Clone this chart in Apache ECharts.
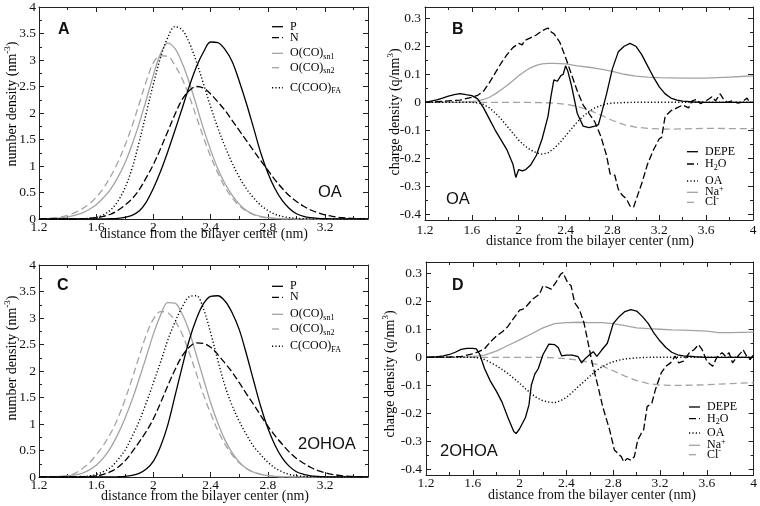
<!DOCTYPE html>
<html><head><meta charset="utf-8">
<script src="https://cdn.jsdelivr.net/npm/echarts@6/dist/echarts.min.js"></script>
<style>html,body{margin:0;padding:0;background:#fff}#c{width:760px;height:506px}</style>
</head><body><div id="c"></div><script>
// ---------- DATA ----------
const xAC = [1.2,1.25,1.3,1.35,1.4,1.45,1.5,1.55,1.6,1.65,1.7,1.75,1.8,1.85,1.9,1.95,2.0,2.05,2.1,2.15,2.2,2.25,2.3,2.35,2.4,2.45,2.5,2.55,2.6,2.65,2.7,2.75,2.8,2.85,2.9,2.95,3.0,3.05,3.1,3.15,3.2,3.25,3.3,3.35,3.4,3.45,3.5];
// Panel A (OA) number densities
const pA   = [0,0,0,0,0,0,0,0,0,0.003,0.006,0.012,0.03,0.07,0.15,0.32,0.58,0.9,1.27,1.67,2.08,2.5,2.87,3.15,3.34,3.33,3.2,2.97,2.6,2.18,1.72,1.25,0.87,0.57,0.35,0.2,0.1,0.05,0.025,0.012,0.005,0.002,0,0,0,0,0];
const nA   = [0,0,0,0,0,0.003,0.006,0.012,0.025,0.05,0.09,0.16,0.26,0.38,0.55,0.78,1.03,1.33,1.65,1.97,2.25,2.42,2.5,2.47,2.36,2.21,2.05,1.86,1.67,1.48,1.29,1.1,0.92,0.74,0.58,0.44,0.33,0.24,0.17,0.12,0.08,0.05,0.03,0.018,0.01,0.005,0.002];
const sn1A = [0.002,0.005,0.01,0.02,0.04,0.07,0.11,0.18,0.27,0.4,0.56,0.78,1.05,1.4,1.8,2.25,2.72,3.12,3.32,3.22,2.95,2.58,2.15,1.7,1.3,0.95,0.67,0.45,0.28,0.16,0.09,0.05,0.025,0.012,0.005,0.002,0,0,0,0,0,0,0,0,0,0,0];
const sn2A = [0.005,0.01,0.02,0.04,0.07,0.12,0.19,0.28,0.41,0.58,0.8,1.06,1.38,1.75,2.17,2.6,2.95,3.08,3.07,2.9,2.65,2.32,1.93,1.54,1.18,0.87,0.6,0.4,0.25,0.15,0.08,0.04,0.02,0.01,0.004,0.002,0,0,0,0,0,0,0,0,0,0,0];
const faA  = [0,0,0,0,0,0.003,0.006,0.012,0.03,0.08,0.17,0.33,0.58,0.95,1.45,2.0,2.55,3.05,3.42,3.63,3.57,3.33,2.97,2.55,2.12,1.72,1.37,1.06,0.79,0.57,0.4,0.26,0.16,0.09,0.05,0.025,0.012,0.005,0.002,0,0,0,0,0,0,0,0];
// Panel C (2OHOA) number densities
const pC   = [0,0,0,0,0,0,0,0,0,0,0.002,0.005,0.01,0.03,0.07,0.15,0.3,0.58,0.98,1.52,2.07,2.58,2.98,3.27,3.41,3.42,3.32,3.1,2.78,2.32,1.82,1.33,0.92,0.6,0.36,0.2,0.1,0.05,0.022,0.01,0.004,0,0,0,0,0,0];
const nC   = [0,0,0,0,0,0.002,0.005,0.01,0.02,0.05,0.1,0.18,0.3,0.47,0.66,0.86,1.1,1.4,1.72,2.02,2.28,2.45,2.53,2.52,2.45,2.31,2.15,1.98,1.78,1.57,1.37,1.16,0.96,0.78,0.62,0.47,0.35,0.26,0.18,0.12,0.08,0.05,0.03,0.018,0.01,0.005,0.002];
const sn1C = [0,0.002,0.005,0.01,0.02,0.04,0.07,0.13,0.22,0.36,0.55,0.8,1.1,1.45,1.85,2.27,2.7,3.05,3.29,3.28,3.08,2.75,2.3,1.85,1.4,1.02,0.7,0.46,0.28,0.16,0.09,0.05,0.025,0.012,0.005,0.002,0,0,0,0,0,0,0,0,0,0,0];
const sn2C = [0,0.002,0.005,0.01,0.025,0.07,0.15,0.26,0.42,0.6,0.82,1.1,1.45,1.85,2.27,2.68,2.98,3.12,3.1,2.95,2.7,2.35,1.95,1.55,1.2,0.88,0.62,0.42,0.27,0.16,0.09,0.05,0.025,0.012,0.005,0.002,0,0,0,0,0,0,0,0,0,0,0];
const faC  = [0,0,0,0,0,0.005,0.01,0.02,0.05,0.1,0.18,0.32,0.5,0.76,1.05,1.4,1.78,2.17,2.58,2.92,3.2,3.4,3.42,3.17,2.72,2.2,1.72,1.35,1.05,0.8,0.58,0.42,0.28,0.17,0.1,0.05,0.022,0.01,0.004,0,0,0,0,0,0,0,0];
// Panel B (OA) charge densities [x, q/nm^3]
const depeB = [[1.2,0],[1.25,0.004],[1.3,0.009],[1.35,0.015],[1.4,0.022],[1.45,0.027],[1.5,0.031],[1.55,0.027],[1.6,0.024],[1.65,0.012],[1.7,-0.02],[1.75,-0.06],[1.8,-0.1],[1.85,-0.135],[1.9,-0.17],[1.95,-0.22],[1.975,-0.268],[2.0,-0.24],[2.03,-0.245],[2.06,-0.24],[2.1,-0.225],[2.15,-0.19],[2.2,-0.13],[2.25,-0.05],[2.275,0.02],[2.3,0.08],[2.33,0.075],[2.36,0.095],[2.38,0.1],[2.4,0.13],[2.42,0.11],[2.45,0.06],[2.5,-0.04],[2.55,-0.085],[2.6,-0.09],[2.65,-0.085],[2.68,-0.08],[2.7,-0.05],[2.75,0.03],[2.8,0.12],[2.85,0.18],[2.9,0.2],[2.95,0.21],[3.0,0.2],[3.05,0.17],[3.1,0.13],[3.15,0.09],[3.2,0.055],[3.25,0.03],[3.3,0.015],[3.35,0.008],[3.4,0.004],[3.5,0.001],[3.6,0],[4.0,0]];
const h2oB = [[1.2,0],[1.3,0.002],[1.4,0.005],[1.5,0.008],[1.6,0.018],[1.65,0.025],[1.7,0.04],[1.75,0.07],[1.8,0.105],[1.85,0.14],[1.9,0.17],[1.95,0.195],[2.0,0.21],[2.03,0.205],[2.05,0.22],[2.1,0.23],[2.15,0.24],[2.2,0.255],[2.25,0.265],[2.28,0.25],[2.3,0.245],[2.35,0.215],[2.4,0.16],[2.45,0.1],[2.5,0.04],[2.55,-0.01],[2.6,-0.04],[2.65,-0.07],[2.7,-0.12],[2.75,-0.19],[2.78,-0.255],[2.82,-0.26],[2.85,-0.31],[2.88,-0.33],[2.92,-0.345],[2.95,-0.37],[2.98,-0.375],[3.0,-0.35],[3.05,-0.29],[3.1,-0.22],[3.15,-0.17],[3.2,-0.13],[3.22,-0.125],[3.25,-0.05],[3.3,-0.03],[3.35,-0.02],[3.4,-0.01],[3.45,-0.02],[3.48,0.005],[3.52,0.01],[3.55,-0.005],[3.6,0.005],[3.65,0.02],[3.68,0.005],[3.72,0.03],[3.75,0.01],[3.78,0.0],[3.82,0.005],[3.87,-0.003],[3.9,0.0],[3.95,0.015],[3.97,0.0],[4.0,0.0]];
const oaB = [[1.2,0],[1.6,0],[1.65,-0.002],[1.7,-0.008],[1.75,-0.02],[1.8,-0.038],[1.85,-0.06],[1.9,-0.085],[1.95,-0.11],[2.0,-0.135],[2.05,-0.155],[2.1,-0.17],[2.15,-0.18],[2.2,-0.185],[2.25,-0.18],[2.3,-0.165],[2.35,-0.145],[2.4,-0.12],[2.45,-0.095],[2.5,-0.07],[2.55,-0.05],[2.6,-0.033],[2.65,-0.02],[2.7,-0.012],[2.75,-0.006],[2.8,-0.003],[2.9,-0.001],[3.0,0],[4.0,0]];
const naB = [[1.2,0],[1.5,0],[1.6,0.002],[1.65,0.005],[1.7,0.01],[1.75,0.018],[1.8,0.03],[1.85,0.045],[1.9,0.06],[1.95,0.077],[2.0,0.095],[2.05,0.11],[2.1,0.123],[2.15,0.132],[2.2,0.137],[2.25,0.139],[2.3,0.139],[2.35,0.138],[2.4,0.137],[2.5,0.13],[2.6,0.125],[2.7,0.118],[2.8,0.11],[2.9,0.1],[3.0,0.093],[3.1,0.09],[3.2,0.088],[3.3,0.087],[3.4,0.086],[3.5,0.086],[3.6,0.086],[3.7,0.088],[3.8,0.09],[3.9,0.092],[4.0,0.094]];
const clB = [[1.2,0],[2.0,0],[2.2,-0.001],[2.3,-0.003],[2.4,-0.007],[2.5,-0.015],[2.6,-0.028],[2.7,-0.045],[2.8,-0.065],[2.9,-0.08],[3.0,-0.089],[3.1,-0.093],[3.2,-0.095],[3.3,-0.096],[3.4,-0.095],[3.5,-0.094],[3.6,-0.093],[3.7,-0.093],[3.8,-0.094],[3.9,-0.094],[4.0,-0.094]];
// Panel D (2OHOA) charge densities
const depeD = [[1.2,0],[1.3,0.002],[1.35,0.005],[1.4,0.01],[1.45,0.018],[1.5,0.028],[1.55,0.032],[1.6,0.032],[1.63,0.03],[1.66,0.01],[1.7,-0.04],[1.75,-0.085],[1.8,-0.12],[1.85,-0.16],[1.9,-0.215],[1.95,-0.265],[1.97,-0.272],[2.0,-0.255],[2.05,-0.215],[2.08,-0.17],[2.1,-0.1],[2.13,-0.06],[2.16,-0.04],[2.2,0.01],[2.25,0.047],[2.3,0.045],[2.33,0.035],[2.36,0.005],[2.4,0.008],[2.45,0.008],[2.5,0.002],[2.53,-0.02],[2.56,-0.005],[2.6,0.01],[2.63,0.02],[2.66,0.003],[2.7,0.025],[2.75,0.05],[2.8,0.12],[2.85,0.145],[2.9,0.163],[2.95,0.17],[3.0,0.165],[3.05,0.145],[3.1,0.12],[3.15,0.085],[3.2,0.058],[3.25,0.035],[3.3,0.018],[3.35,0.009],[3.4,0.005],[3.5,0.002],[3.6,0],[4.0,0]];
const h2oD = [[1.2,0],[1.4,0.001],[1.5,0.003],[1.6,0.012],[1.65,0.02],[1.7,0.03],[1.75,0.055],[1.8,0.075],[1.85,0.09],[1.9,0.11],[1.95,0.14],[2.0,0.168],[2.03,0.172],[2.06,0.183],[2.11,0.207],[2.17,0.225],[2.2,0.255],[2.24,0.249],[2.27,0.243],[2.31,0.267],[2.35,0.296],[2.37,0.302],[2.41,0.267],[2.44,0.255],[2.47,0.195],[2.51,0.171],[2.55,0.123],[2.58,0.063],[2.62,-0.02],[2.67,-0.104],[2.71,-0.176],[2.77,-0.26],[2.81,-0.331],[2.84,-0.343],[2.87,-0.355],[2.89,-0.373],[2.92,-0.361],[2.95,-0.367],[2.98,-0.355],[3.01,-0.295],[3.04,-0.271],[3.06,-0.259],[3.09,-0.176],[3.13,-0.164],[3.16,-0.116],[3.21,-0.056],[3.25,-0.032],[3.29,-0.02],[3.33,0.004],[3.36,-0.02],[3.4,-0.014],[3.45,0.016],[3.49,0.027],[3.53,0.045],[3.56,0.027],[3.6,-0.014],[3.65,-0.032],[3.69,0.004],[3.73,0.016],[3.76,0.004],[3.79,0.016],[3.82,-0.02],[3.84,-0.008],[3.89,0.016],[3.91,0.027],[3.94,0.004],[3.97,-0.008],[4.0,0.01]];
const oaD = [[1.2,0],[1.6,0],[1.65,-0.002],[1.7,-0.008],[1.75,-0.018],[1.8,-0.03],[1.85,-0.043],[1.9,-0.058],[1.95,-0.075],[2.0,-0.093],[2.05,-0.112],[2.1,-0.13],[2.15,-0.145],[2.2,-0.155],[2.25,-0.16],[2.3,-0.162],[2.35,-0.155],[2.4,-0.143],[2.45,-0.125],[2.5,-0.105],[2.55,-0.087],[2.6,-0.068],[2.65,-0.05],[2.7,-0.035],[2.75,-0.024],[2.8,-0.016],[2.85,-0.01],[2.9,-0.006],[3.0,-0.002],[3.1,0],[4.0,0]];
const naD = [[1.2,0],[1.5,0],[1.6,0.002],[1.7,0.008],[1.8,0.022],[1.9,0.042],[2.0,0.062],[2.1,0.083],[2.2,0.105],[2.3,0.12],[2.4,0.124],[2.5,0.125],[2.6,0.124],[2.7,0.124],[2.8,0.12],[2.9,0.113],[3.0,0.105],[3.1,0.102],[3.2,0.1],[3.3,0.098],[3.4,0.097],[3.5,0.095],[3.6,0.093],[3.7,0.088],[3.8,0.088],[3.9,0.089],[4.0,0.09]];
const clD = [[1.2,0],[2.2,0],[2.3,-0.002],[2.4,-0.005],[2.5,-0.01],[2.6,-0.018],[2.7,-0.03],[2.8,-0.048],[2.9,-0.067],[3.0,-0.083],[3.1,-0.094],[3.2,-0.099],[3.3,-0.1],[3.4,-0.1],[3.5,-0.099],[3.6,-0.098],[3.7,-0.096],[3.8,-0.094],[3.9,-0.092],[4.0,-0.09]];
// Ticks
const xTicksAC = [1.2,1.6,2.0,2.4,2.8,3.2];
const xMinorAC = [1.4,1.8,2.2,2.6,3.0,3.4];
const xTicksBD = [1.2,1.6,2.0,2.4,2.8,3.2,3.6,4.0];
const xMinorBD = [1.4,1.8,2.2,2.6,3.0,3.4,3.8];
const yTicksAC = [0,0.5,1,1.5,2,2.5,3,3.5,4];
const yMinorAC = [0.25,0.75,1.25,1.75,2.25,2.75,3.25,3.75];
const yTicksBD = [-0.4,-0.3,-0.2,-0.1,0,0.1,0.2,0.3];
const yMinorBD = [-0.35,-0.25,-0.15,-0.05,0.05,0.15,0.25];
// Legend names
const namesAC = ['P','N','O(CO)sn1','O(CO)sn2','C(COO)FA'];
const namesBD = ['DEPE','H2O','OA','Na+','Cl-'];

// ---------- LAYOUT ----------
const SERIF = 'Liberation Serif, Times New Roman, serif';
const SANS = 'Liberation Sans, Arial, sans-serif';
const BLACK = '#000';
const GRAY = '#a3a3a3';
const grids = [
  {left:39, top:5, width:329, height:214},
  {left:425, top:7, width:328, height:213},
  {left:39, top:265, width:329, height:212},
  {left:426, top:262, width:329, height:213}
];
const xRanges = [[1.2,3.5],[1.2,4],[1.2,3.5],[1.2,4]];
const yRanges = [[0,4],[-0.42,0.34],[0,4],[-0.42,0.34]];
const xLabelMargin = [1,3,1,1];
const yLabelMargin = [3,4,3,4];
const fmt = v => String(parseFloat(Number(v).toFixed(2)));
const axisColor = '#222';

const xAxes = [], yAxes = [];
grids.forEach((g, gi) => {
  const ac = gi % 2 === 0;
  const xT = ac ? xTicksAC : xTicksBD, xM = ac ? xMinorAC : xMinorBD;
  const yT = ac ? yTicksAC : yTicksBD, yM = ac ? yMinorAC : yMinorBD;
  const [x0,x1] = xRanges[gi], [y0,y1] = yRanges[gi];
  const mk = (pos, vals, len, labels, line, margin) => ({
    gridIndex: gi, type: 'value', min: pos==='bottom'||pos==='top'?x0:y0, max: pos==='bottom'||pos==='top'?x1:y1,
    position: pos,
    axisLine: {show: line, onZero:false, lineStyle:{color:axisColor, width:1}},
    axisTick: {show:true, inside:true, length:len, customValues: vals, lineStyle:{color:axisColor, width:1}},
    axisLabel: {show: labels, customValues: vals, formatter: fmt, margin: margin||0,
      color:'#111', fontFamily: SERIF, fontSize: 13.5, hideOverlap:false},
    splitLine: {show:false}, minorTick:{show:false}
  });
  xAxes.push(mk('bottom', xT, 5, true, true, xLabelMargin[gi]));
  xAxes.push(mk('bottom', xM, 3, false, false));
  xAxes.push(mk('top', xT, 5, false, true));
  xAxes.push(mk('top', xM, 3, false, false));
  yAxes.push(mk('left', yT, 5, true, true, yLabelMargin[gi]));
  yAxes.push(mk('left', yM, 3, false, false));
  yAxes.push(mk('right', yT, 5, false, true));
  yAxes.push(mk('right', yM, 3, false, false));
});

const DOT = {color:BLACK, type:[1.2,2.2], width:1.4, cap:'butt'};
const styles = [
  {color:BLACK, type:'solid', width:1.3},
  {color:BLACK, type:[7,3], width:1.3},
  {color:GRAY, type:'solid', width:1.3},
  {color:GRAY, type:[7,4], width:1.3},
  DOT
];
const stylesBD = [
  {color:BLACK, type:'solid', width:1.3},
  {color:BLACK, type:[7,3], width:1.3},
  DOT,
  {color:GRAY, type:'solid', width:1.3},
  {color:GRAY, type:[7,4], width:1.3}
];

const series = [];
const addSeries = (gi, name, data, st, smooth) => series.push({
  type:'line', name, xAxisIndex: gi*4, yAxisIndex: gi*4, data,
  showSymbol:false, symbol:'none', smooth: smooth ? 0.35 : false,
  lineStyle: st, clip:true, silent:true, z: 3
});
const pairs = arr => xAC.map((x,i)=>[x, arr[i]]);
[[sn1A,2],[sn2A,3],[pA,0],[nA,1],[faA,4]].forEach(([a,k])=>addSeries(0, namesAC[k], pairs(a), styles[k], true));
[[naB,3],[clB,4],[oaB,2],[h2oB,1],[depeB,0]].forEach(([a,k])=>addSeries(1, namesBD[k], a, stylesBD[k], false));
[[sn1C,2],[sn2C,3],[pC,0],[nC,1],[faC,4]].forEach(([a,k])=>addSeries(2, namesAC[k], pairs(a), styles[k], true));
[[naD,3],[clD,4],[oaD,2],[h2oD,1],[depeD,0]].forEach(([a,k])=>addSeries(3, namesBD[k], a, stylesBD[k], false));

// ---------- TEXT / LEGENDS (graphic) ----------
const rich = {
  m:{fontFamily:SERIF, fontSize:12, color:'#111'},
  sub:{fontFamily:SERIF, fontSize:8, color:'#111', padding:[7,0,0,0]},
  sup:{fontFamily:SERIF, fontSize:8, color:'#111', padding:[0,0,7,0]}
};
const legTextAC = ['{m|P}','{m|N}','{m|O(CO)}{sub|sn1}','{m|O(CO)}{sub|sn2}','{m|C(COO)}{sub|FA}'];
const legTextBD = ['{m|DEPE}','{m|H}{sub|2}{m|O}','{m|OA}','{m|Na}{sup|+}','{m|Cl}{sup|-}'];
const legends = [
  {gi:0, lx:[272,283], tx:290, ys:[26.7,37.7,53.3,67.7,87.7]},
  {gi:1, lx:[687,698], tx:705, ys:[151.7,164,181,192.3,202.3]},
  {gi:2, lx:[272,283], tx:290, ys:[286.3,297.3,314.3,329,346.3]},
  {gi:3, lx:[689,700], tx:707, ys:[407,418.7,433,445.3,454.7]}
];
const graphic = [];
legends.forEach(L => {
  const ac = L.gi % 2 === 0;
  const st = ac ? styles : stylesBD;
  const tx = ac ? legTextAC : legTextBD;
  L.ys.forEach((y,i) => {
    graphic.push({type:'line', shape:{x1:L.lx[0], y1:y, x2:L.lx[1], y2:y},
      style:{stroke:st[i].color, lineWidth:st[i].width, lineDash: Array.isArray(st[i].type)?st[i].type:null, lineCap: st[i].cap||'butt'}, silent:true});
    graphic.push({type:'text', x:L.tx, y:y, style:{text:tx[i], rich, align:'left', verticalAlign:'middle'}, silent:true});
  });
});
const addText = (x,y,text,font,size,weight,align,rot) => graphic.push({type:'text', x, y, rotation: rot||0,
  style:{text, fontFamily:font, fontSize:size, fontWeight:weight||'normal', fill:'#111', align:align||'left', verticalAlign:'middle'}, silent:true});
addText(58,30,'A',SANS,16,'bold');
addText(452,30,'B',SANS,16,'bold');
addText(57,286,'C',SANS,16,'bold');
addText(452,285.5,'D',SANS,16,'bold');
addText(318,192,'OA',SANS,16.5);
addText(446,199,'OA',SANS,16.5);
addText(298,444.5,'2OHOA',SANS,16.5);
addText(440,451,'2OHOA',SANS,16.5);
const xTitle = 'distance from the bilayer center (nm)';
addText(204,234,xTitle,SERIF,14,'normal','center');
addText(590,241,xTitle,SERIF,14,'normal','center');
addText(205,496,xTitle,SERIF,14,'normal','center');
addText(592,495,xTitle,SERIF,14,'normal','center');
const richT = {
  a:{fontFamily:SERIF, fontSize:14, color:'#111'},
  s:{fontFamily:SERIF, fontSize:9, color:'#111', padding:[0,0,9,0]}
};
const yT = (x,y,text) => graphic.push({type:'text', x, y, rotation: Math.PI/2,
  style:{text, rich:richT, align:'center', verticalAlign:'middle'}, silent:true});
yT(12,104,'{a|number density (nm}{s|-3}{a|)}');
yT(395,112,'{a|charge density (q/nm}{s|3}{a|)}');
yT(12,358,'{a|number density (nm}{s|-3}{a|)}');
yT(390,374,'{a|charge density (q/nm}{s|3}{a|)}');

const chart = echarts.init(document.getElementById('c'), null, {renderer:'canvas'});
chart.setOption({
  animation:false, backgroundColor:'#fff',
  grid: grids.map(g=>Object.assign({containLabel:false, show:false}, g)),
  xAxis: xAxes, yAxis: yAxes, series, graphic
});
</script></body></html>
